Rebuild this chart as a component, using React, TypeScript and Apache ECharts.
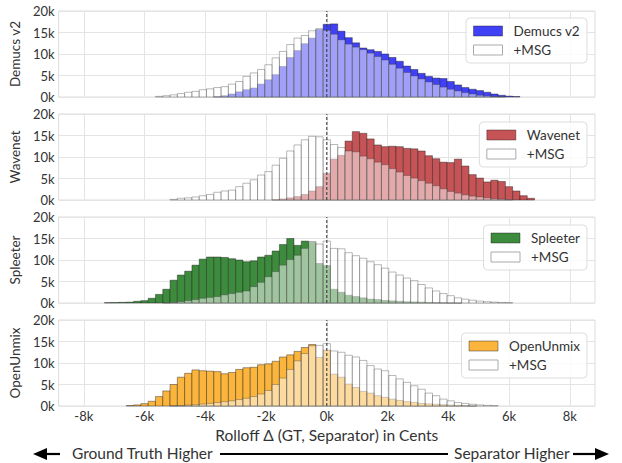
import React, { useEffect, useRef } from 'react';
import * as echarts from 'echarts';

// bin width in cents; bins are centred on multiples of BIN
const BIN = 240;
const X_TICKS = [-8000, -6000, -4000, -2000, 0, 2000, 4000, 6000, 8000];
const PANEL_NAMES = ['Demucs v2', 'Wavenet', 'Spleeter', 'OpenUnmix'];
const MSG_NAME = '+MSG';

// Demucs v2
const demucsStart = -15;
const demucsCounts = [100, 300, 700, 1200, 1700, 2100, 3000, 4000, 5200, 7100, 9200, 10800, 12400, 13700, 15700, 16900, 17000, 15300, 13800, 12600, 11400, 11000, 10600, 10000, 9200, 8300, 7200, 6400, 5500, 4800, 4400, 4300, 3600, 2800, 2200, 1800, 1500, 1100, 700, 400, 200, 100];
const demucsMsgStart = -23;
const demucsMsgCounts = [150, 300, 500, 800, 1100, 1300, 1700, 1900, 2200, 2400, 3000, 3600, 4800, 5600, 6400, 7500, 9100, 10600, 12200, 13700, 14300, 15400, 15900, 15500, 14600, 13300, 12300, 11600, 11000, 10200, 9400, 8600, 7600, 6700, 5700, 4900, 4200, 3500, 2900, 2300, 1800, 1400, 1000, 700, 400, 250, 100, 50];

// Wavenet
const wavenetStart = -7;
const wavenetCounts = [100, 250, 500, 800, 1300, 2100, 3100, 6200, 9500, 10400, 13700, 15900, 15500, 14200, 12800, 12400, 12500, 12400, 12000, 11900, 11400, 10300, 9600, 8800, 8700, 9500, 7900, 5900, 5100, 4200, 4600, 4300, 3100, 2100, 1000, 400];
const wavenetMsgStart = -21;
const wavenetMsgCounts = [150, 400, 500, 700, 1000, 1300, 1800, 2100, 2300, 3100, 3900, 4700, 5800, 6600, 8100, 9700, 11400, 12800, 14000, 14800, 14700, 14000, 12900, 12200, 11400, 11200, 10200, 9600, 8800, 8200, 7300, 6500, 5700, 5100, 4500, 3900, 3300, 2600, 2000, 1600, 1200, 900, 700, 500, 300, 200, 100];

// Spleeter
const spleeterStart = -30;
const spleeterCounts = [80, 100, 150, 200, 400, 550, 1100, 2000, 3200, 5300, 6500, 7400, 8800, 10200, 10700, 10700, 10600, 10300, 10000, 9600, 9800, 10700, 11100, 12100, 13600, 15000, 13400, 14400, 14100, 9200, 8700, 3200, 2500, 1800, 1500, 1200, 900, 800, 600, 500, 400, 300, 250, 200, 150, 100, 80, 50, 30];
const spleeterMsgStart = -22;
const spleeterMsgCounts = [50, 150, 300, 550, 800, 1100, 1300, 1500, 1900, 2200, 2500, 2800, 3800, 4800, 6100, 7300, 8800, 10100, 11100, 12700, 14300, 13700, 14400, 12700, 12600, 11700, 11000, 10400, 9600, 8900, 8100, 7200, 6500, 5800, 5200, 4300, 3500, 2800, 2200, 1700, 1200, 900, 650, 450, 300, 200, 120, 80];

// OpenUnmix
const openunmixStart = -27;
const openunmixCounts = [100, 250, 550, 1100, 2200, 3500, 5000, 6700, 7600, 8400, 8200, 8100, 8000, 7500, 7800, 8500, 8900, 9000, 9600, 9800, 10400, 11400, 11900, 12700, 13600, 14300, 11300, 13000, 7400, 6700, 5100, 4300, 3400, 3000, 2400, 2000, 1600, 1300, 1000, 850, 600, 500, 400, 300, 200, 150, 100, 50];
const openunmixMsgStart = -21;
const openunmixMsgCounts = [50, 100, 200, 300, 450, 600, 800, 1000, 1200, 1500, 1800, 2200, 2800, 3600, 5000, 6500, 8500, 10500, 12200, 14000, 14100, 14500, 12800, 12500, 11800, 11400, 10600, 9400, 8600, 8200, 7100, 6300, 5500, 4700, 3900, 3000, 2400, 1600, 1200, 800, 600, 400, 250, 150, 100];

const COLORS = ['#4040f6', '#c65356', '#3d8b3d', '#fbb53c'];

function toBins(start: number, counts: number[]) {
  return counts.map((c, i) => {
    const center = (start + i) * BIN;
    return [center - BIN / 2, center + BIN / 2, c];
  });
}

const PANELS = [
  { color: [demucsStart, demucsCounts], msg: [demucsMsgStart, demucsMsgCounts] },
  { color: [wavenetStart, wavenetCounts], msg: [wavenetMsgStart, wavenetMsgCounts] },
  { color: [spleeterStart, spleeterCounts], msg: [spleeterMsgStart, spleeterMsgCounts] },
  { color: [openunmixStart, openunmixCounts], msg: [openunmixMsgStart, openunmixMsgCounts] },
] as any[];

const FONT = 'Lato, "Open Sans", sans-serif';
const TXT = '#333333';

export default function App() {
  const ref = useRef<HTMLDivElement>(null);
  useEffect(() => {
    document.body.style.margin = '0';
    const chart = echarts.init(ref.current!, null, { renderer: 'svg' });
    const tops = [11, 114, 217, 320];
    const legendTops = [18, 122, 225, 333];
    const H = 86;
    const grids: any[] = [];
    const xAxes: any[] = [];
    const yAxes: any[] = [];
    const series: any[] = [];
    const legends: any[] = [];

    const rectRender = (fill: string, stroke: string) => (params: any, api: any) => {
      const x0 = api.value(0);
      const x1 = api.value(1);
      const y = api.value(2);
      const p0 = api.coord([x0, y]);
      const p1 = api.coord([x1, 0]);
      return {
        type: 'rect',
        shape: { x: p0[0], y: p0[1], width: p1[0] - p0[0], height: p1[1] - p0[1] },
        style: { fill, stroke, lineWidth: 0.8 },
      };
    };

    PANELS.forEach((p, i) => {
      const last = i === PANELS.length - 1;
      grids.push({
        left: 53, right: 27, top: tops[i], height: H,
        show: true, borderColor: '#dddddd', borderWidth: 1,
      });
      xAxes.push({
        type: 'value', gridIndex: i, min: -8830, max: 8830,
        axisLine: { show: false },
        axisTick: { show: false, customValues: X_TICKS },
        axisLabel: {
          show: last, customValues: X_TICKS, margin: 3,
          formatter: (v: number) => `${v / 1000}k`,
          color: TXT, fontSize: 13, fontFamily: FONT,
        },
        splitLine: { show: true, lineStyle: { color: '#e4e4e4', width: 1 } },
        name: last ? 'Rolloff Δ (GT, Separator) in Cents' : '',
        nameLocation: 'middle', nameGap: 21,
        nameTextStyle: { color: TXT, fontSize: 15.5, fontFamily: FONT },
      });
      yAxes.push({
        type: 'value', gridIndex: i, min: 0, max: 20000, interval: 5000,
        axisLine: { show: false }, axisTick: { show: false },
        axisLabel: {
          margin: 4, formatter: (v: number) => `${v / 1000}k`,
          color: TXT, fontSize: 13, fontFamily: FONT,
        },
        splitLine: { show: true, lineStyle: { color: '#e4e4e4', width: 1 } },
        name: PANEL_NAMES[i], nameLocation: 'middle', nameGap: 26,
        nameTextStyle: { color: TXT, fontSize: 13.5, fontFamily: FONT },
      });
      series.push({
        type: 'custom', name: PANEL_NAMES[i], xAxisIndex: i, yAxisIndex: i,
        data: toBins(p.color[0], p.color[1]), encode: { x: [0, 1], y: 2 },
        renderItem: rectRender(COLORS[i], 'rgba(20,20,20,0.5)'), z: 2, silent: true,
      });
      series.push({
        type: 'custom', name: MSG_NAME, xAxisIndex: i, yAxisIndex: i,
        data: toBins(p.msg[0], p.msg[1]), encode: { x: [0, 1], y: 2 },
        renderItem: rectRender('rgba(255,255,255,0.5)', 'rgba(60,60,60,0.45)'), z: 3, silent: true,
      });
      series.push({
        type: 'line', xAxisIndex: i, yAxisIndex: i, data: [[0, 0], [0, 20000]],
        symbol: 'none', silent: true, z: 4,
        lineStyle: { color: '#3a3a3a', width: 1.1, type: [3, 2] },
      });
      legends.push({
        orient: 'vertical', right: 35, top: legendTops[i],
        backgroundColor: 'rgba(255,255,255,0.85)', borderColor: '#dddddd', borderWidth: 1,
        borderRadius: 4, padding: [6, 7, 6, 7], itemGap: 5, itemWidth: 29, itemHeight: 10,
        selectedMode: false,
        textStyle: { color: TXT, fontSize: 13.5, fontFamily: FONT, padding: [0, 0, 0, 6] },
        data: [
          { name: PANEL_NAMES[i], icon: 'rect', itemStyle: { color: COLORS[i], borderColor: 'rgba(20,20,20,0.5)', borderWidth: 0.8 } },
          { name: MSG_NAME, icon: 'rect', itemStyle: { color: '#ffffff', borderColor: '#aaaaaa', borderWidth: 1 } },
        ],
      });
    });

    const AY = 454;
    chart.setOption({
      animation: false,
      backgroundColor: '#ffffff',
      grid: grids,
      xAxis: xAxes,
      yAxis: yAxes,
      legend: legends,
      series,
      graphic: [
        { type: 'polygon', shape: { points: [[33, AY], [47, AY - 6], [47, AY + 6]] }, style: { fill: '#000' } },
        { type: 'line', shape: { x1: 45, y1: AY, x2: 60, y2: AY }, style: { stroke: '#000', lineWidth: 2.2 } },
        { type: 'text', left: 72, top: AY - 9, style: { text: 'Ground Truth Higher', fill: TXT, font: `15.5px ${FONT}` } },
        { type: 'line', shape: { x1: 220, y1: AY, x2: 448, y2: AY }, style: { stroke: '#000', lineWidth: 2.2 } },
        { type: 'text', right: 52, top: AY - 9, style: { text: 'Separator Higher', fill: TXT, font: `15.5px ${FONT}` } },
        { type: 'line', shape: { x1: 573, y1: AY, x2: 597, y2: AY }, style: { stroke: '#000', lineWidth: 2.2 } },
        { type: 'polygon', shape: { points: [[609, AY], [595, AY - 6], [595, AY + 6]] }, style: { fill: '#000' } },
      ],
    });
    return () => chart.dispose();
  }, []);
  return <div ref={ref} style={{ width: 622, height: 463 }} />;
}
